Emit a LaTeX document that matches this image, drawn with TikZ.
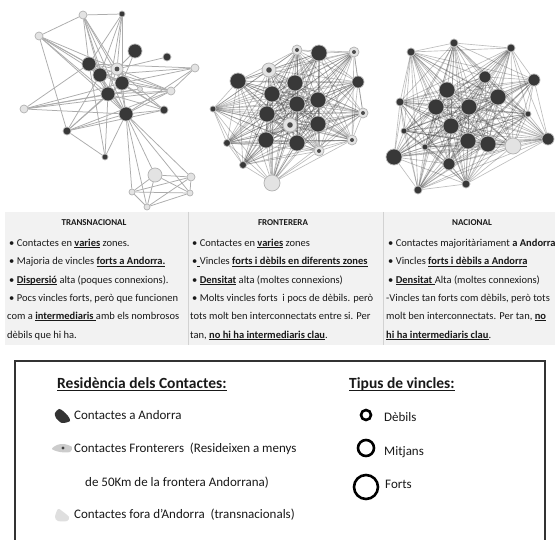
\documentclass[tikz,border=0pt]{standalone}
\usepackage{fontspec}
\setmainfont{Carlito}
\newcommand\uln[1]{\setbox0\hbox{#1}\rlap{\rule[-1.7pt]{\wd0}{0.75pt}}\box0\relax}
\usetikzlibrary{backgrounds}
\begin{document}
\begin{tikzpicture}[x=1pt,y=-1pt,
  nd/.style={circle, inner sep=0pt, minimum size=#1, line width=0.7pt},
  dk/.style={nd=#1, fill=black!78, draw=gray!55},
  lt/.style={nd=#1, fill=gray!22, draw=gray!60},
  rg/.style={nd=#1, fill=gray!22, draw=gray!60, path picture={\fill[black!70] (path picture bounding box.center) circle (0.2*#1);}},
  ed/.style={draw=gray!65, line width=0.75pt},
  dense/.style={draw=black!75, draw opacity=0.34, line width=0.65pt},
  ptxt/.style={anchor=base west, inner sep=0pt, font=\fontsize{10.5}{12}\selectfont, text=black!90},
  ptitle/.style={anchor=base, inner sep=0pt, font=\fontsize{9}{11}\selectfont\bfseries, text=black!90},
  ltxt/.style={anchor=base west, inner sep=0pt, font=\fontsize{13}{15}\selectfont, text=black!90},
  lhead/.style={anchor=base west, inner sep=0pt, font=\fontsize{15.5}{18}\selectfont\bfseries, text=black!90},
  ring/.style={circle, draw=black, line width=2.6pt, inner sep=0pt, minimum size=#1}
]
\useasboundingbox (0,0) rectangle (555,540);

% ---------- Network 1: TRANSNACIONAL ----------
\node[lt=8pt] (t1) at (83,15) {};
\node[dk=6pt] (t2) at (122,14) {};
\node[lt=8pt] (t3) at (39,36) {};
\node[dk=14pt] (t4) at (135,51) {};
\node[dk=8pt] (t5) at (167,57) {};
\node[lt=8pt] (t6) at (195,68) {};
\node[dk=14pt] (t7) at (89,64) {};
\node[rg=12pt] (t8) at (117,69) {};
\node[dk=14pt] (t9) at (100,75) {};
\node[dk=14pt] (t10) at (122,83) {};
\node[lt=5pt] (t11) at (140,89) {};
\node[lt=8pt] (t12) at (171,91) {};
\node[dk=14pt] (t13) at (108,94) {};
\node[lt=8pt] (t14) at (24,109) {};
\node[dk=8pt] (t15) at (164,110) {};
\node[dk=14pt] (t16) at (126,114) {};
\node[dk=8pt] (t17) at (67,131) {};
\node[dk=6pt] (t18) at (105,157) {};
\node[lt=14pt] (t19) at (155,175) {};
\node[lt=8pt] (t20) at (191,177) {};
\node[lt=6pt] (t21) at (132,192) {};
\node[lt=6pt] (t22) at (190,193) {};
\node[lt=6pt] (t23) at (147,207) {};

% ---------- Network 2: FRONTERERA ----------
\node[rg=10pt] (f1) at (297,50) {};
\node[dk=16pt] (f2) at (319,53) {};
\node[rg=10pt] (f3) at (354,52) {};
\node[rg=14pt] (f4) at (269,70) {};
\node[dk=16pt] (f5) at (238,81) {};
\node[dk=16pt] (f6) at (295,83) {};
\node[dk=12pt] (f7) at (358,82) {};
\node[dk=16pt] (f8) at (272,94) {};
\node[dk=16pt] (f9) at (297,104) {};
\node[dk=16pt] (f10) at (318,100) {};
\node[dk=6pt] (f11) at (213,109) {};
\node[rg=10pt] (f12) at (363,113) {};
\node[dk=16pt] (f13) at (267,114) {};
\node[rg=14pt] (f14) at (290,125) {};
\node[dk=16pt] (f15) at (318,124) {};
\node[dk=7pt] (f16) at (227,143) {};
\node[dk=16pt] (f17) at (266,140) {};
\node[dk=16pt] (f18) at (297,143) {};
\node[rg=10pt] (f19) at (319,151) {};
\node[rg=10pt] (f20) at (352,140) {};
\node[dk=7pt] (f21) at (243,165) {};
\node[lt=16pt] (f22) at (272,183) {};

% ---------- Network 3: NACIONAL ----------
\node[dk=8pt] (n1) at (454,43) {};
\node[dk=8pt] (n2) at (411,52) {};
\node[dk=8pt] (n3) at (511,48) {};
\node[dk=12pt] (n4) at (485,77) {};
\node[dk=12pt] (n5) at (534,80) {};
\node[dk=16pt] (n6) at (447,90) {};
\node[dk=16pt] (n7) at (498,97) {};
\node[dk=8pt] (n8) at (400,102) {};
\node[dk=16pt] (n9) at (436,107) {};
\node[dk=16pt] (n10) at (469,107) {};
\node[dk=6pt] (n11) at (528,114) {};
\node[dk=16pt] (n12) at (451,126) {};
\node[dk=6pt] (n13) at (404,131) {};
\node[dk=16pt] (n14) at (468,141) {};
\node[dk=16pt] (n15) at (488,144) {};
\node[lt=16pt] (n16) at (513,146) {};
\node[dk=12pt] (n17) at (548,139) {};
\node[dk=6pt] (n18) at (425,147) {};
\node[dk=16pt] (n19) at (394,157) {};
\node[dk=12pt] (n20) at (449,164) {};
\node[dk=8pt] (n21) at (418,190) {};
\node[dk=8pt] (n22) at (466,184) {};

\begin{pgfonlayer}{background}
  \fill[white] (0,0) rectangle (555,540);
  % panels
  \fill[gray!10] (5,212) rectangle (555,345);
  \draw[gray!35, line width=0.8pt] (188,212) -- (188,345);
  \draw[gray!35, line width=0.8pt] (383,212) -- (383,345);
  % edges network 1
  \foreach \a/\b in {1/2,1/3,1/7,1/8,1/9,1/10,1/13,1/16,
    2/7,2/8,2/9,2/10,2/13,
    3/7,3/8,3/9,3/10,3/13,3/16,3/17,
    4/8,4/10,5/8,
    6/7,6/9,6/10,6/12,6/16,
    7/8,7/9,7/10,7/12,7/13,7/15,7/16,
    8/9,8/10,8/12,8/13,8/15,8/16,
    9/10,9/12,9/13,9/16,
    10/12,10/13,10/15,10/16,
    11/13,11/14,
    12/13,12/14,12/16,12/17,
    13/14,13/16,13/17,13/18,
    14/7,14/10,14/16,
    15/13,15/16,
    16/17,16/18,16/19,16/20,16/21,16/22,16/23,
    17/9,17/10,17/15,17/18,18/7,
    19/20,19/21,19/22,19/23,20/21,20/22,20/23,21/22,21/23,22/23}
    \draw[ed] (t\a) -- (t\b);
  % edges networks 2 and 3 (dense)
  \foreach \i in {1,...,21}{
    \pgfmathtruncatemacro\k{\i+1}
    \foreach \j in {\k,...,22}{
      \draw[dense] (f\i) -- (f\j);
      \draw[dense] (n\i) -- (n\j);
    }
  }
\end{pgfonlayer}

% ---------- Panel texts ----------
\node[ptitle] (h1) at (94,226) {TRANSNACIONAL};
\node[ptxt] (a1) at (9,246.5) {• Contactes en \uln{\textbf{varies}} zones.};
\node[ptxt] (a2) at (9,265) {• Majoria de vincles \uln{\textbf{forts a Andorra.}}};
\node[ptxt] (a3) at (9,283.5) {• \uln{\textbf{Dispersió}} alta (poques connexions).};
\node[ptxt] (a4) at (9,301.5) {• Pocs vincles forts, però que funcionen};
\node[ptxt] (a5) at (7,319.5) {com a \uln{\textbf{intermediaris}\ }amb els nombrosos};
\node[ptxt] (a6) at (7,338.5) {dèbils que hi ha.};

\node[ptitle] (h2) at (283,226) {FRONTERERA};
\node[ptxt] (b1) at (192,246.5) {• Contactes en \uln{\textbf{varies}} zones};
\node[ptxt] (b2) at (192,265) {•\uln{\ }Vincles \uln{\textbf{forts i dèbils en diferents zones}}};
\node[ptxt] (b3) at (192,283.5) {• \uln{\textbf{Densitat}} alta (moltes connexions)};
\node[ptxt] (b4) at (192,301.5) {• Molts vincles forts\ \ i pocs de dèbils. però};
\node[ptxt] (b5) at (190,319.5) {tots molt ben interconnectats entre si. Per};
\node[ptxt] (b6) at (190,338.5) {tan, \uln{\textbf{no hi ha intermediaris clau}}.};

\node[ptitle] (h3) at (472,226) {NACIONAL};
\node[ptxt] (c1) at (388,246.5) {• Contactes majoritàriament \textbf{a Andorra}};
\node[ptxt] (c2) at (388,265) {• Vincles \uln{\textbf{forts i dèbils a Andorra}}};
\node[ptxt] (c3) at (388,283.5) {• \uln{\textbf{Densitat}\ }Alta (moltes connexions)};
\node[ptxt] (c4) at (386,301.5) {-Vincles tan forts com dèbils, però tots};
\node[ptxt] (c5) at (386,319.5) {molt ben interconnectats. Per tan, \uln{\textbf{no}}};
\node[ptxt] (c6) at (386,338.5) {\uln{\textbf{hi ha intermediaris clau}}.};

% ---------- Legend ----------
\draw[gray!40!black, line width=1.3pt] (15,548) -- (15,361) -- (545,361) -- (545,548);

\node[lhead] (lh1) at (57,389) {\uln{Residència dels Contactes:}};
\node[lhead] (lh2) at (349,389) {\uln{Tipus de vincles:}};

% icons
\fill[black!80] plot[smooth cycle] coordinates {(55,413) (59,409) (63,411) (68,416) (70,421) (62,423) (56,418)};
\fill[gray!40] plot[smooth cycle] coordinates {(52,449) (57,445) (64,444) (72,447) (70,452) (60,452)};
\fill[black!75] (63,448) circle (1.6);
\fill[gray!25] plot[smooth cycle] coordinates {(55,517) (58,509) (62,511) (69,517) (67,521) (58,521)};

\node[ltxt] (l1) at (74,420) {Contactes a Andorra};
\node[ltxt] (l2) at (74,453) {Contactes Fronterers\ \ (Resideixen a menys};
\node[ltxt] (l3) at (85,486) {de 50Km de la frontera Andorrana)};
\node[ltxt] (l4) at (74,518) {Contactes fora d’Andorra\ \ (transnacionals)};

\node[ring=10pt] (r1) at (366,415) {};
\node[ring=16pt] (r2) at (366,448) {};
\node[ring=24pt] (r3) at (366,487) {};
\node[ltxt] (lr1) at (384,421) {Dèbils};
\node[ltxt] (lr2) at (384,456) {Mitjans};
\node[ltxt] (lr3) at (385,489) {Forts};
\end{tikzpicture}
\end{document}
